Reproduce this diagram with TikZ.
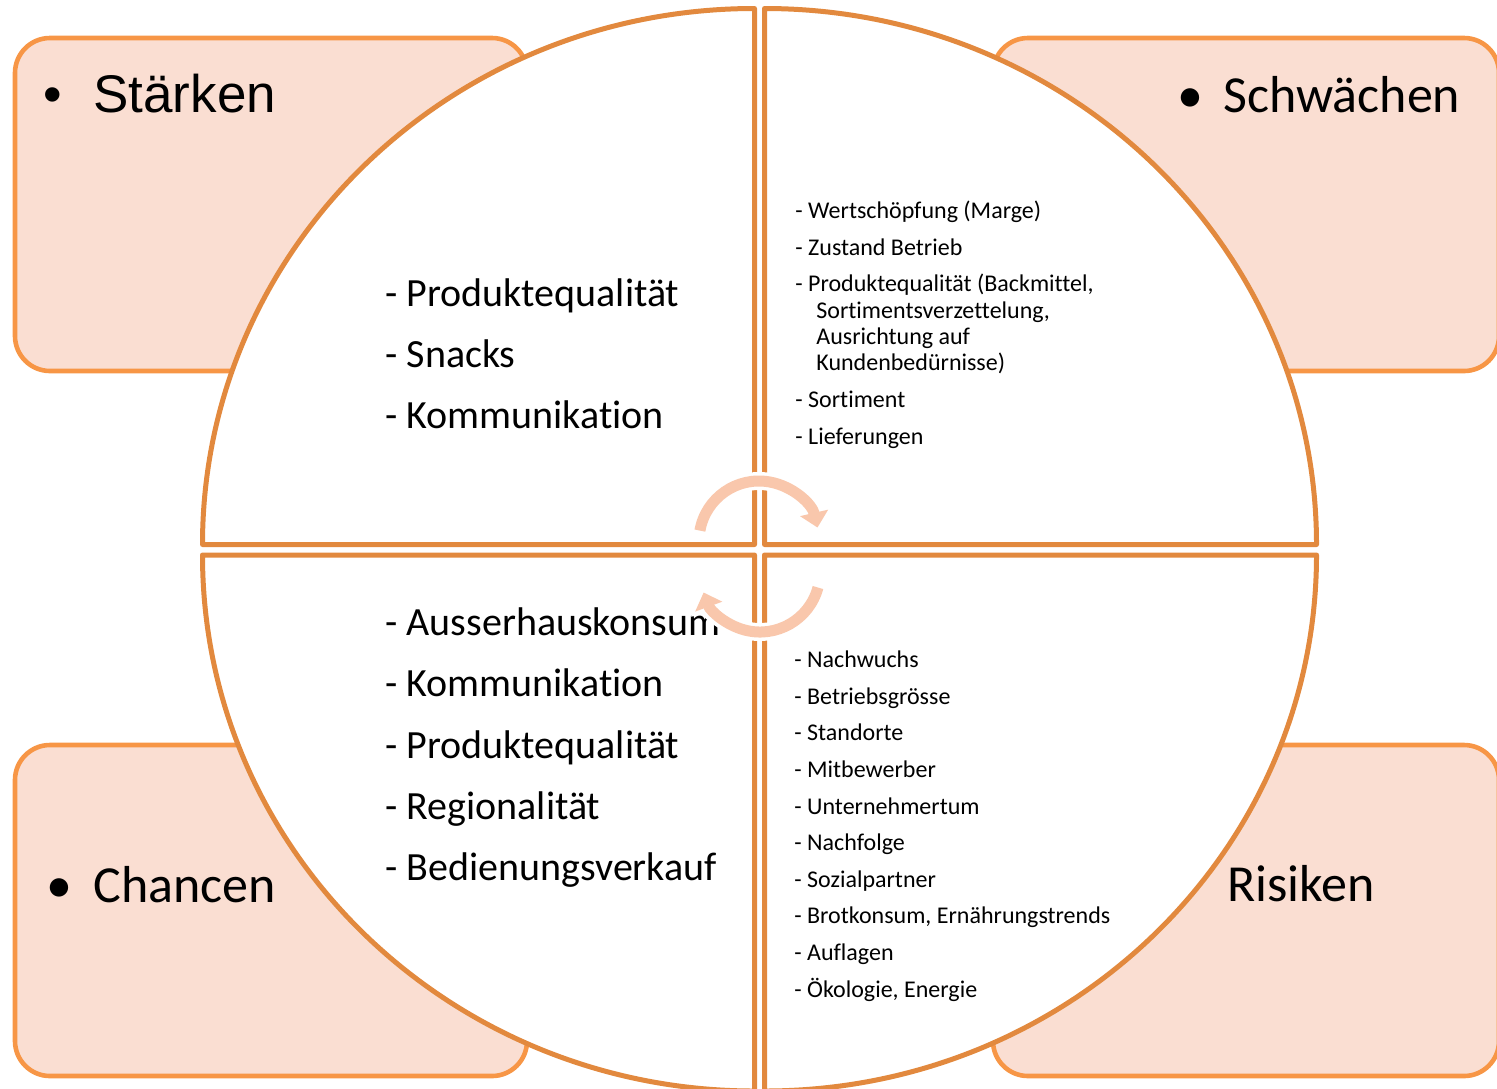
\documentclass[tikz,border=0pt]{standalone}
\usepackage{fontspec}
\setmainfont{Carlito}[Ligatures={NoCommon,NoContextual},Contextuals=NoAlternate]
\newfontfamily\arialfont{Liberation Sans}
\usetikzlibrary{arrows.meta}
\definecolor{circOrange}{RGB}{226,137,62}
\definecolor{rectOrange}{RGB}{247,150,70}
\definecolor{rectFill}{RGB}{250,222,210}
\definecolor{arrowCol}{RGB}{249,199,172}
\begin{document}
\begin{tikzpicture}[x=0.5pt,y=0.5pt,
  cornerbox/.style={draw=rectOrange, fill=rectFill, line width=2.3pt, rounded corners=17.5pt},
  quad/.style={draw=circOrange, fill=white, line width=2.5pt, line join=round},
  titletext/.style={anchor=base west, inner sep=0pt, font=\fontsize{26}{31}\selectfont},
  bigitem/.style={anchor=base west, inner sep=0pt, font=\fontsize{20}{24}\selectfont},
  smallitem/.style={anchor=base west, inner sep=0pt, font=\fontsize{12}{14}\selectfont},
  cyclearrow/.style={draw=arrowCol, line width=5.5pt, -{Triangle[width=14pt,length=7.5pt]}},
  cycleback/.style={draw=white, line width=9pt, -{Triangle[width=19pt,length=10pt]}}
]
\useasboundingbox (0,0) rectangle (1497,-1088);
\clip (0,0) rectangle (1497,-1088);

% corner boxes
\draw[cornerbox] (15,-38) rectangle (527,-371);
\draw[cornerbox] (993,-38) rectangle (1499,-371);
\draw[cornerbox] (15,-745) rectangle (527,-1076);
\draw[cornerbox] (993,-745) rectangle (1499,-1076);

% titles
\node[titletext, font=\arialfont\fontsize{26.5}{31}\selectfont] (staerken) at (43,-112) {\makebox[25pt][l]{•}Stärken};
\node[titletext] (schwaechen) at (1177,-112) {\makebox[23pt][l]{•}Schwächen};
\node[titletext] (chancen) at (46,-902) {\makebox[23.5pt][l]{•}Chancen};
\node[titletext] (risiken) at (1227,-901) {Risiken};

% quadrants
\draw[quad] (754.5,-544.5) -- ++(-552,0) arc[start angle=180, end angle=90, x radius=552, y radius=536] -- cycle;
\draw[quad] (764.5,-544.5) -- ++(0,536) arc[start angle=90, end angle=0, x radius=552, y radius=536] -- cycle;
\draw[quad] (754.5,-555) -- ++(-552,0) arc[start angle=180, end angle=270, x radius=552, y radius=536] -- cycle;
\draw[quad] (764.5,-555) -- ++(552,0) arc[start angle=0, end angle=-90, x radius=552, y radius=536] -- cycle;

% Staerken items
\node[bigitem] (s1) at (385,-306) {- Produktequalität};
\node[bigitem] (s2) at (385,-367) {- Snacks};
\node[bigitem] (s3) at (385,-428) {- Kommunikation};

% Chancen items
\node[bigitem] (c1) at (385,-635) {- Ausserhauskonsum};
\node[bigitem] (c2) at (385,-696) {- Kommunikation};
\node[bigitem] (c3) at (385,-758) {- Produktequalität};
\node[bigitem] (c4) at (385,-819) {- Regionalität};
\node[bigitem] (c5) at (385,-880) {- Bedienungsverkauf};

% Schwaechen items
\node[smallitem] (w1) at (795,-218.5) {- Wertschöpfung (Marge)};
\node[smallitem] (w2) at (795,-255.5) {- Zustand Betrieb};
\node[smallitem] (w3) at (795,-291.5) {- Produktequalität (Backmittel,};
\node[smallitem] (w3b) at (816,-318) {Sortimentsverzettelung,};
\node[smallitem] (w3c) at (816,-344) {Ausrichtung auf};
\node[smallitem] (w3d) at (816,-370) {Kundenbedürnisse)};
\node[smallitem] (w4) at (795,-407.5) {- Sortiment};
\node[smallitem] (w5) at (795,-444.5) {- Lieferungen};

% Risiken items
\node[smallitem] (r1) at (794,-667.5) {- Nachwuchs};
\node[smallitem] (r2) at (794,-704.5) {- Betriebsgrösse};
\node[smallitem] (r3) at (794,-740.5) {- Standorte};
\node[smallitem] (r4) at (794,-777.5) {- Mitbewerber};
\node[smallitem] (r5) at (794,-814.5) {- Unternehmertum};
\node[smallitem] (r6) at (794,-850.5) {- Nachfolge};
\node[smallitem] (r7) at (794,-887.5) {- Sozialpartner};
\node[smallitem] (r8) at (794,-923.5) {- Brotkonsum, Ernährungstrends};
\node[smallitem] (r9) at (794,-960.5) {- Auflagen};
\node[smallitem] (r10) at (794,-997.5) {- Ökologie, Energie};

% cycle arrows
\coordinate (ca1) at (759,-541);
\coordinate (ca2) at (760,-572);
\draw[cycleback] (ca1) ++(170:60) arc[start angle=170, end angle=12, radius=60];
\draw[cyclearrow] (ca1) ++(170:60) arc[start angle=170, end angle=13, radius=60];
\draw[cycleback] (ca2) ++(-15:60) arc[start angle=-15, end angle=-161, radius=60];
\draw[cyclearrow] (ca2) ++(-15:60) arc[start angle=-15, end angle=-160, radius=60];
\end{tikzpicture}
\end{document}
